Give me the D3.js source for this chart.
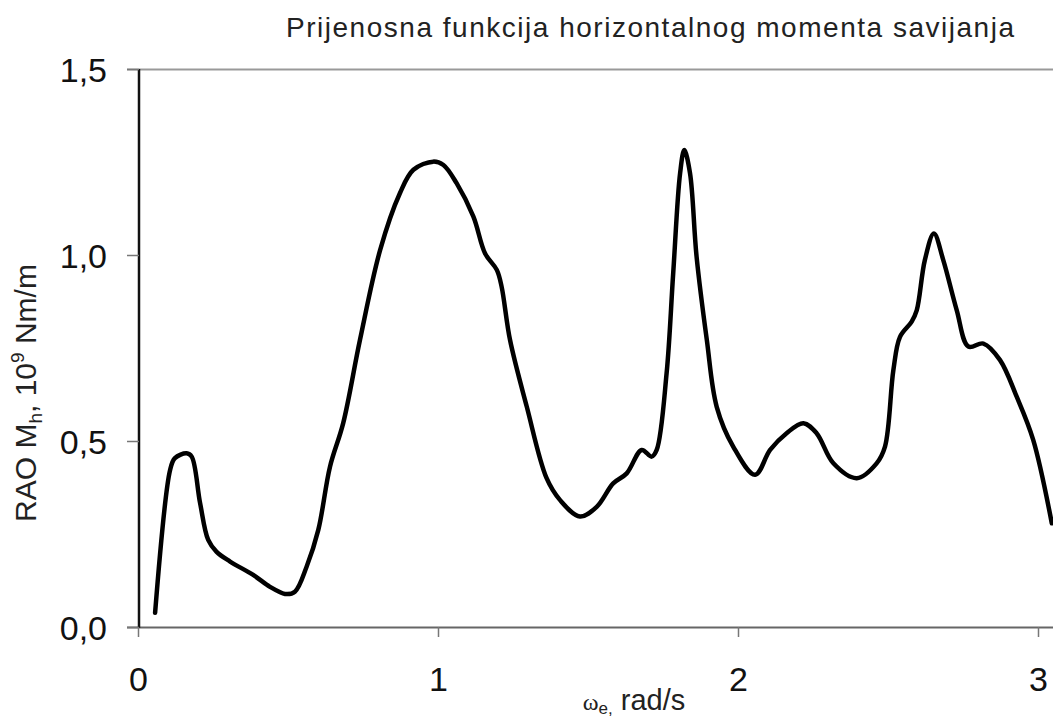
<!DOCTYPE html>
<html><head><meta charset="utf-8">
<script src="https://cdn.jsdelivr.net/npm/d3@7"></script>
<style>body{margin:0;background:#fff}svg{display:block}text{font-family:"Liberation Sans",Arial,sans-serif}</style>
</head><body>
<script>
const omega = [0.057,0.107,0.123,0.162,0.179,0.207,0.234,0.262,0.307,0.384,0.44,0.49,0.523,0.562,0.601,0.64,0.684,0.74,0.807,0.873,0.918,0.984,1.018,1.062,1.118,1.157,1.196,1.212,1.24,1.296,1.362,1.407,1.473,1.529,1.584,1.629,1.679,1.712,1.729,1.762,1.784,1.807,1.821,1.84,1.862,1.896,1.929,1.984,2.057,2.107,2.162,2.218,2.262,2.318,2.396,2.462,2.49,2.518,2.54,2.579,2.596,2.623,2.653,2.684,2.729,2.768,2.818,2.873,2.929,2.984,3.046];
const rao = [0.038,0.422,0.454,0.467,0.458,0.333,0.234,0.202,0.176,0.140,0.108,0.089,0.095,0.162,0.261,0.431,0.548,0.772,1.013,1.166,1.229,1.251,1.242,1.193,1.103,1.004,0.960,0.915,0.772,0.592,0.400,0.341,0.297,0.323,0.386,0.413,0.476,0.458,0.476,0.682,0.951,1.220,1.282,1.220,0.995,0.772,0.592,0.485,0.409,0.476,0.521,0.548,0.521,0.440,0.400,0.440,0.485,0.691,0.780,0.821,0.852,0.987,1.058,0.987,0.852,0.754,0.762,0.718,0.619,0.503,0.279];
const xTicks = [0,1,2,3];
const yTicks = [0,0.5,1.0,1.5];
const title = "Prijenosna funkcija horizontalnog momenta savijanja";

const W = 1053, H = 719;
const svg = d3.select("body").append("svg").attr("width", W).attr("height", H);
const x = d3.scaleLinear().domain([0, 3.05]).range([138, 1053]);
const y = d3.scaleLinear().domain([0, 1.5]).range([627, 69]);
const fmt = d => d3.format(".1f")(d).replace(".", ",");

// top border
svg.append("line").attr("x1", 127).attr("x2", W).attr("y1", 69.5).attr("y2", 69.5)
  .attr("stroke", "#999").attr("stroke-width", 2);
// bottom axis line
svg.append("line").attr("x1", 127).attr("x2", W).attr("y1", 627.5).attr("y2", 627.5)
  .attr("stroke", "#666").attr("stroke-width", 2);
// left axis line
svg.append("line").attr("x1", 139).attr("x2", 139).attr("y1", 69).attr("y2", 628)
  .attr("stroke", "#111").attr("stroke-width", 2.5);

// y ticks
const yAxis = d3.axisLeft(y).tickValues(yTicks).tickFormat(fmt).tickSize(12).tickPadding(20);
const gy = svg.append("g").attr("transform", "translate(139,0)").call(yAxis);
gy.select(".domain").remove();
gy.selectAll(".tick line").attr("stroke", "#777").attr("stroke-width", 1.5);
gy.selectAll(".tick text").attr("font-size", 34).attr("fill", "#111").attr("dy", "0.36em")
  .attr("font-family", "'Liberation Sans',Arial,sans-serif");

// x ticks
const xAxis = d3.axisBottom(x).tickValues(xTicks).tickFormat(d3.format("d")).tickSize(10).tickPadding(30);
const gx = svg.append("g").attr("transform", "translate(0,627)").call(xAxis);
gx.select(".domain").remove();
gx.selectAll(".tick line").attr("stroke", "#777").attr("stroke-width", 1.5);
gx.selectAll(".tick text").attr("font-size", 34).attr("fill", "#111")
  .attr("font-family", "'Liberation Sans',Arial,sans-serif");

// curve
const line = d3.line().x((d, i) => x(omega[i])).y(d => y(d)).curve(d3.curveCatmullRom.alpha(0.5));
svg.append("path").datum(rao).attr("d", line).attr("fill", "none")
  .attr("stroke", "#000").attr("stroke-width", 4.5).attr("stroke-linejoin", "round").attr("stroke-linecap", "round");

// title
svg.append("text").attr("x", 650).attr("y", 37).attr("text-anchor", "middle")
  .attr("font-size", 28).attr("fill", "#222").attr("textLength", 728).text(title);

// y label
const yl = svg.append("text").attr("transform", "translate(36,393) rotate(-90)")
  .attr("text-anchor", "middle").attr("font-size", 30).attr("fill", "#222");
yl.append("tspan").text("RAO M");
yl.append("tspan").attr("font-size", 19).attr("dy", 6).text("h");
yl.append("tspan").attr("dy", -6).text(", 10");
yl.append("tspan").attr("font-size", 19).attr("dy", -12).text("9");
yl.append("tspan").attr("dy", 12).text(" Nm/m");

// x label
const xl = svg.append("text").attr("x", 634).attr("y", 710).attr("text-anchor", "middle")
  .attr("font-size", 29).attr("fill", "#222");
xl.append("tspan").attr("font-family", "'Liberation Serif',serif").attr("font-size", 24).text("ω");
xl.append("tspan").attr("font-size", 17).attr("dy", 4).text("e,");
xl.append("tspan").attr("dy", -4).text(" rad/s");
</script>
</body></html>
